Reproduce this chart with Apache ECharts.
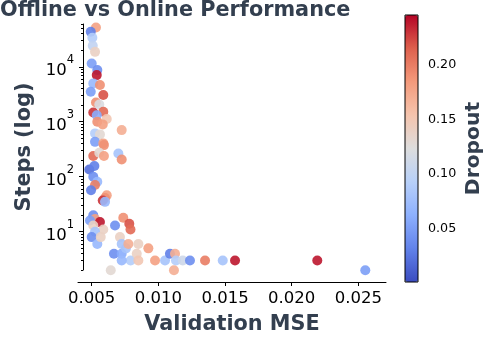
<!DOCTYPE html>
<html>
<head>
<meta charset="utf-8">
<script src="https://cdn.jsdelivr.net/npm/echarts@6/dist/echarts.min.js"></script>
<style>
html,body{margin:0;padding:0;background:#fff;}
#chart{width:500px;height:350px;}
</style>
</head>
<body>
<div id="chart"></div>
<script>
// ---- data ----
const mse = [
  0.00532, 0.00493, 0.00505, 0.00508, 0.00525, 0.00500, 0.00542, 0.00538, 0.00512, 0.00562,
  0.00493, 0.00587, 0.00532, 0.00557, 0.00512, 0.00587, 0.00538, 0.00613, 0.00542, 0.00583,
  0.00725, 0.00525, 0.00562, 0.00525, 0.00587, 0.00592, 0.00512, 0.00557, 0.00592, 0.00700,
  0.00725, 0.00482, 0.00520, 0.00512, 0.00542, 0.00525, 0.00495, 0.00613, 0.00600, 0.00583,
  0.00600, 0.00512, 0.00525, 0.00487, 0.00562, 0.00512, 0.00587, 0.00525, 0.00500, 0.00542,
  0.00568, 0.00675, 0.00737, 0.00782, 0.00791, 0.00712, 0.00667, 0.00725, 0.00757, 0.00792,
  0.00838, 0.00725, 0.00643, 0.00725, 0.00775, 0.00850, 0.00925, 0.00850, 0.00975, 0.01050,
  0.01087, 0.01125, 0.01132, 0.01183, 0.01237, 0.01350, 0.01483, 0.01575, 0.01117, 0.02192,
  0.02552
];
const steps = [
  52000, 43300, 33700, 24100, 18700, 11500, 8700, 7060, 4990, 4650,
  3510, 3060, 2250, 2070, 1480, 1520, 1320, 1120, 1000, 897,
  706, 615, 590, 432, 405, 377, 238, 273, 238, 266,
  207, 136, 157, 100, 81, 71, 57, 46, 41, 37,
  35, 20, 17, 16, 15, 13, 11, 10, 8, 6,
  8, 13, 18, 14, 11, 8, 4, 4, 5, 3,
  4, 3, 2, 6, 6, 6, 5, 3, 3, 3,
  4, 4, 3, 3, 3, 3, 3, 3, 2, 3,
  2
];
const dropout = [
  0.18, 0.03, 0.09, 0.10, 0.14, 0.05, 0.04, 0.24, 0.07, 0.19,
  0.05, 0.22, 0.19, 0.12, 0.23, 0.21, 0.06, 0.15, 0.19, 0.18,
  0.17, 0.09, 0.13, 0.05, 0.18, 0.19, 0.21, 0.13, 0.18, 0.08,
  0.19, 0.02, 0.03, 0.04, 0.07, 0.20, 0.03, 0.18, 0.19, 0.23,
  0.07, 0.04, 0.18, 0.05, 0.24, 0.14, 0.14, 0.08, 0.04, 0.07,
  0.14, 0.04, 0.19, 0.22, 0.21, 0.14, 0.04, 0.06, 0.08, 0.09,
  0.14, 0.07, 0.13, 0.08, 0.17, 0.14, 0.18, 0.15, 0.18, 0.08,
  0.03, 0.17, 0.09, 0.11, 0.04, 0.20, 0.08, 0.24, 0.17, 0.24,
  0.05
];
const xTicks = [0.005, 0.010, 0.015, 0.020, 0.025];
const yMajorTicks = [10, 100, 1000, 10000];
const yMinorTicks = [2,3,4,5,6,7,8,9, 20,30,40,50,60,70,80,90, 200,300,400,500,600,700,800,900,
  2000,3000,4000,5000,6000,7000,8000,9000, 20000,30000,40000,50000,60000];
const cbTicks = [0.05, 0.10, 0.15, 0.20];
const coolwarm = ['#3b4cc0','#6282ea','#8db0fe','#b8d0f9','#dddddd','#f5c4ad','#f49a7b','#de604d','#b40426'];

const TXT = '#333f4f';
const FONT = 'DejaVu Sans';

const chart = echarts.init(document.getElementById('chart'), null, {renderer: 'canvas'});
const option = {
  animation: false,
  backgroundColor: '#fff',
  textStyle: {fontFamily: FONT},
  title: {
    text: 'Offline vs Online Performance',
    left: 0, top: 0, padding: 0,
    textStyle: {fontFamily: FONT, fontSize: 20.8, fontWeight: 'bold', color: TXT}
  },
  grid: [
    {left: 78, top: 24, width: 308, height: 258},
    {left: 83, top: 24, width: 1, height: 246},
    {left: 405, top: 15, width: 13, height: 267, show: true, borderColor: '#000', borderWidth: 1, backgroundColor: 'transparent', z: 10}
  ],
  xAxis: [
    {
      type: 'value', gridIndex: 0, min: 0.003973, max: 0.027074,
      name: 'Validation MSE', nameLocation: 'middle', nameGap: 32,
      nameTextStyle: {fontFamily: FONT, fontSize: 20.8, fontWeight: 'bold', color: TXT},
      axisLine: {show: true, lineStyle: {color: '#000', width: 1}},
      axisTick: {show: true, length: 4, lineStyle: {color: '#000'}, customValues: xTicks},
      axisLabel: {color: '#000', fontSize: 16.5, fontFamily: FONT, margin: 8, customValues: xTicks,
        formatter: v => v.toFixed(3)},
      splitLine: {show: false}
    },
    {type: 'value', gridIndex: 1, show: false, min: 0, max: 1},
    {type: 'value', gridIndex: 2, show: false, min: 0, max: 1}
  ],
  yAxis: [
    {type: 'log', gridIndex: 0, min: 1.222, max: 60000, show: false, splitLine: {show: false}},
    {
      type: 'log', gridIndex: 1, min: 2, max: 60000, position: 'left',
      name: 'Steps (log)', nameLocation: 'middle', nameGap: 48, nameRotate: 90,
      nameTextStyle: {fontFamily: FONT, fontSize: 20.8, fontWeight: 'bold', color: TXT},
      axisLine: {show: true, lineStyle: {color: '#000', width: 1}},
      axisTick: {show: true, length: 4, lineStyle: {color: '#000'}, customValues: yMajorTicks},
      axisLabel: {
        margin: 9, customValues: yMajorTicks,
        formatter: v => '{a|10}{b|' + Math.round(Math.log10(v)) + '}',
        rich: {
          a: {fontFamily: FONT, fontSize: 16.5, color: '#000', padding: [8, 0, 0, 0], verticalAlign: 'bottom'},
          b: {fontFamily: FONT, fontSize: 11.5, color: '#000', verticalAlign: 'top', lineHeight: 13}
        }
      },
      splitLine: {show: false}
    },
    {
      type: 'log', gridIndex: 1, min: 2, max: 60000, position: 'left',
      axisLine: {show: false},
      axisTick: {show: true, length: 2, lineStyle: {color: '#000'}, customValues: yMinorTicks},
      axisLabel: {show: false},
      splitLine: {show: false}
    },
    {
      type: 'value', gridIndex: 2, min: 0.001, max: 0.246, position: 'right',
      name: 'Dropout', nameLocation: 'middle', nameGap: 46, nameRotate: 90,
      nameTextStyle: {fontFamily: FONT, fontSize: 20.3, fontWeight: 'bold', color: TXT},
      axisLine: {show: false},
      axisTick: {show: true, length: 4, lineStyle: {color: '#000'}, customValues: cbTicks},
      axisLabel: {color: '#000', fontSize: 12.7, fontFamily: FONT, margin: 10, customValues: cbTicks,
        formatter: v => v.toFixed(2)},
      splitLine: {show: false}
    }
  ],
  visualMap: {
    type: 'continuous', min: 0.001, max: 0.246, dimension: 2, seriesIndex: 0,
    inRange: {color: coolwarm},
    calculable: false, hoverLink: false,
    left: 405, top: 15, itemWidth: 13, itemHeight: 267, padding: 0,
    text: null, showLabel: false
  },
  series: [{
    type: 'scatter', xAxisIndex: 0, yAxisIndex: 0,
    symbolSize: 10,
    itemStyle: {opacity: 0.9},
    data: mse.map((x, i) => [x, steps[i], dropout[i]])
  }]
};
chart.setOption(option);
</script>
</body>
</html>
